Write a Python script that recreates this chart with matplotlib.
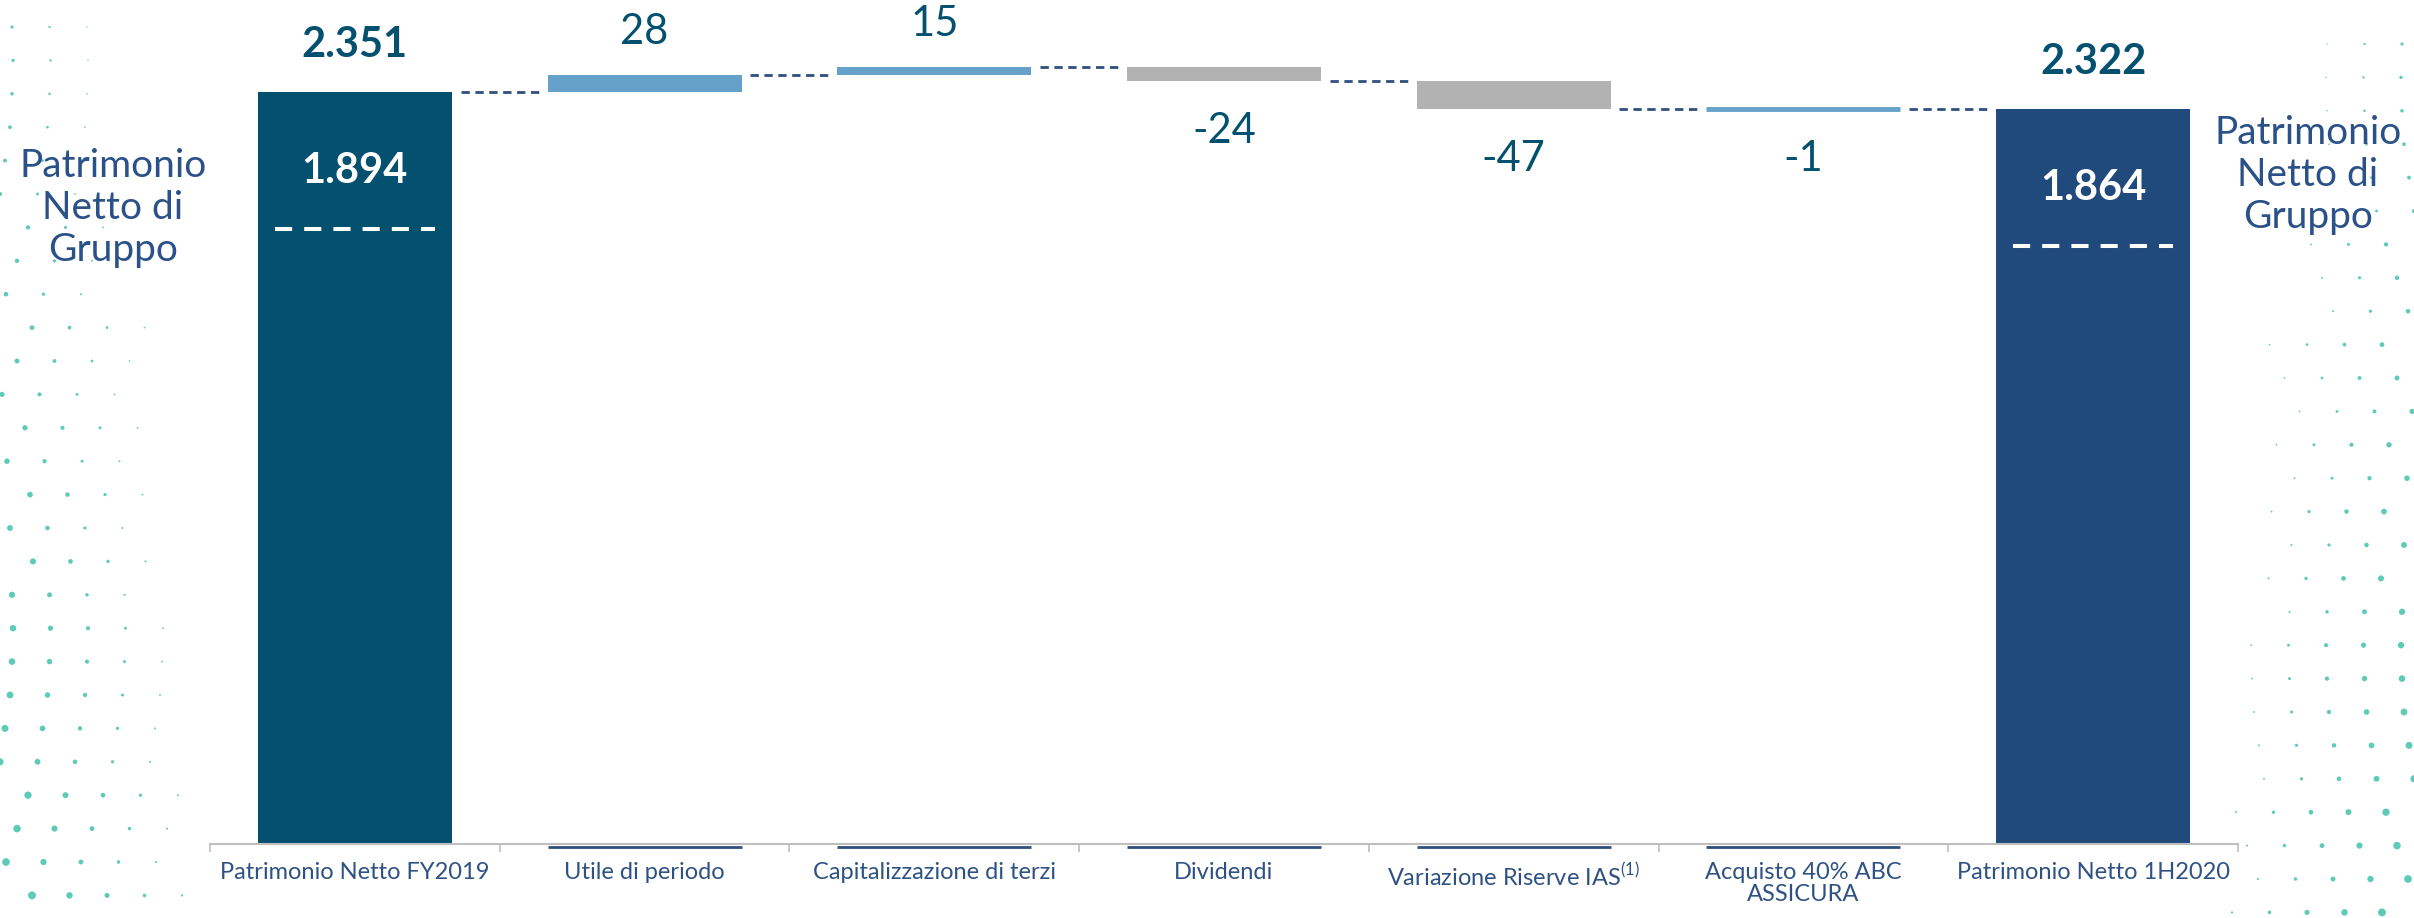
import matplotlib.pyplot as plt
import matplotlib.transforms as mtransforms
import numpy as np

plt.rcParams['font.family'] = ['Lato', 'DejaVu Sans']
plt.rcParams['mathtext.fontset'] = 'custom'
plt.rcParams['mathtext.rm'] = 'Lato'

# dati (milioni di euro)
categorie = ["Patrimonio Netto FY2019", "Utile di periodo", "Capitalizzazione di terzi",
             "Dividendi", "Variazione Riserve IAS$^{\\mathrm{(1)}}$", "Acquisto 40% ABC\nASSICURA",
             "Patrimonio Netto 1H2020"]
pn_iniziale = 2351
pn_finale = 2322
pn_gruppo = [1894, 1864]
variazioni = [28, 15, -24, -47, -1]
etichette_var = ["28", "15", "-24", "-47", "-1"]
colori_var = ["#66A1C9", "#66A1C9", "#B2B2B2", "#B2B2B2", "#66A1C9"]

col_num = "#03506F"
col_testo = "#2E5283"
W, H = 2414, 918

fig = plt.figure(figsize=(W / 100, H / 100), dpi=100)

# sfondo decorativo a puntini
bg = fig.add_axes([0, 0, 1, 1], zorder=0)
bg.set_xlim(0, W)
bg.set_ylim(H, 0)
bg.axis('off')
xs, ys, ss = [], [], []
offs = [12, 13, 12, 10, 5, 0, 28, 17, 6, 32, 17, 2, 25, 7, 30, 10, 33]
for r in range(28):
    y = 27 + 33.4 * r
    x0 = offs[r % len(offs)]
    dmax = 3 + 5 * (y / H)
    ncol = 3 + int(3 * y / H)
    for c in range(ncol):
        d = dmax * (1 - c / (ncol + 0.5))
        for side in (0, 1):
            x = x0 + 37.5 * c
            xs.append(x if side == 0 else W - x)
            ys.append(y if side == 0 else y + 17)
            ss.append((d * 0.72) ** 2)
bg.scatter(xs, ys, s=ss, color="#5ECBB8", linewidths=0)

ax = fig.add_axes([210 / W, 74 / H, (2238 - 210) / W, 844 / H], zorder=1)
ax.patch.set_alpha(0)
ax.set_xlim(-0.5, 6.5)
ax.set_ylim(1076, 2507)
bw = 0.67

# barre totali
ax.bar(0, pn_iniziale, width=bw, color="#03506F")
ax.bar(6, pn_finale, width=bw, color="#214A7C")

# barre di variazione
cum = pn_iniziale + np.cumsum(variazioni)
prev = np.concatenate([[pn_iniziale], cum[:-1]])
tr_base = mtransforms.offset_copy(ax.transData, fig=fig, x=0, y=-3, units='dots')
for i, (v, p, c) in enumerate(zip(variazioni, prev, colori_var)):
    lw = 3.5 if abs(v) < 5 else 0
    ax.bar(i + 1, v, bottom=p, width=bw, color=c, edgecolor=c, linewidth=lw,
           joinstyle='round')
    ax.plot([i + 1 - bw / 2, i + 1 + bw / 2], [1076, 1076], color="#2F4F7F", lw=2,
            clip_on=False, solid_capstyle='butt', transform=tr_base, zorder=3)

# connettori
livelli = np.concatenate([[pn_iniziale], cum])
for i, lv in enumerate(livelli):
    ax.plot([i + bw / 2 + 0.03, i + 1 - bw / 2 - 0.03], [lv, lv], color="#2F4F7F",
            lw=2, dashes=(3, 2))

# etichette
for i, (v, p, t) in enumerate(zip(variazioni, prev, etichette_var)):
    if v > 0:
        ax.annotate(t, (i + 1, p + v), xytext=(0, 31), textcoords='offset points',
                    ha='center', va='center', fontsize=30, color=col_num)
    else:
        ax.annotate(t, (i + 1, p + v), xytext=(0, -36), textcoords='offset points',
                    ha='center', va='center', fontsize=30, color=col_num)

for x, tot, g in [(0, pn_iniziale, pn_gruppo[0]), (6, pn_finale, pn_gruppo[1])]:
    s = f"{tot:,}".replace(",", ".")
    ax.annotate(s, (x, tot), xytext=(0, 34), textcoords='offset points',
                ha='center', va='center', fontsize=30, fontweight='bold', color=col_num)
    sg = f"{g:,}".replace(",", ".")
    ax.annotate(sg, (x, tot), xytext=(0, -57), textcoords='offset points',
                ha='center', va='center', fontsize=30, fontweight='bold', color='white')
    tr = mtransforms.offset_copy(ax.transData, fig=fig, x=0, y=-137, units='dots')
    ax.plot([x - 0.276, x + 0.276], [tot, tot], transform=tr, color='white', lw=2.9,
            dashes=(4.25, 3), solid_capstyle='butt', dash_capstyle='butt')

# assi
for sp in ['left', 'top', 'right']:
    ax.spines[sp].set_visible(False)
ax.spines['bottom'].set_color("#BFBFBF")
ax.spines['bottom'].set_linewidth(1.5)
ax.set_yticks([])
ax.set_xticks(range(7))
ax.set_xticklabels(categorie, fontsize=17, color=col_testo, linespacing=1.05)
ax.tick_params(axis='x', which='major', length=0, pad=13)
ax.set_xticks(np.arange(-0.5, 7, 1), minor=True)
ax.tick_params(axis='x', which='minor', length=6, color="#BFBFBF", width=1.2)

fig.text(113 / W, 1 - 208 / H, "Patrimonio\nNetto di\nGruppo", ha='center', va='center',
         fontsize=28, color="#2B5189", linespacing=1.2, zorder=3)
fig.text(2308 / W, 1 - 175 / H, "Patrimonio\nNetto di\nGruppo", ha='center', va='center',
         fontsize=28, color="#2B5189", linespacing=1.2, zorder=3)

fig.savefig("out.png", dpi=100)
